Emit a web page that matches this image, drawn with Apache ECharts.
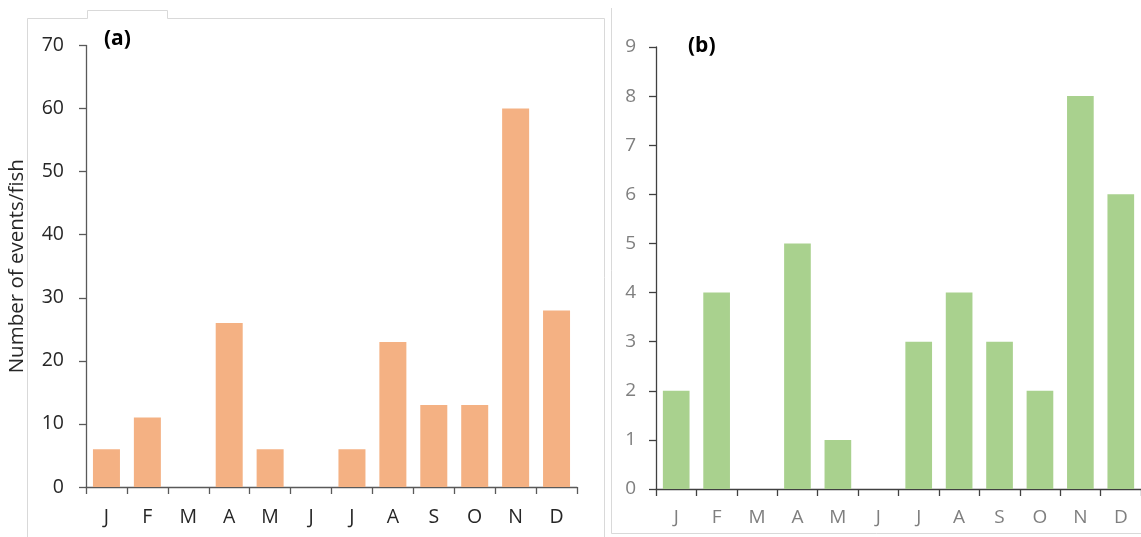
<!DOCTYPE html>
<html>
<head>
<meta charset="utf-8">
<script src="https://cdn.jsdelivr.net/npm/echarts@6/dist/echarts.min.js"></script>
<style>
html,body{margin:0;padding:0;background:#fff;}
#c{width:1141px;height:537px;}
</style>
</head>
<body>
<div id="c"></div>
<script>
var months = ['J','F','M','A','M','J','J','A','S','O','N','D'];
var eventsA = [6, 11, 0, 26, 6, 0, 6, 23, 13, 13, 60, 28];
var eventsB = [2, 4, 0, 5, 1, 0, 3, 4, 3, 2, 8, 6];
var yTicksA = {min: 0, max: 70, interval: 10};
var yTicksB = {min: 0, max: 9, interval: 1};
var yName = 'Number of events/fish';
var panelLabels = ['(a)', '(b)'];

var FONT = '"Open Sans", "Noto Sans", sans-serif';
var chart = echarts.init(document.getElementById('c'), null, {renderer: 'canvas'});
var border = '#d9d9d9';

chart.setOption({
  backgroundColor: '#ffffff',
  animation: false,
  grid: [
    {left: 86, right: 1141 - 577, top: 45.5, bottom: 537 - 487},
    {left: 656, right: 1141 - 1149, top: 47, bottom: 537 - 489}
  ],
  xAxis: [
    {
      gridIndex: 0, type: 'category', data: months,
      axisLine: {lineStyle: {color: '#595959', width: 1.3}},
      axisTick: {show: true, length: 7, alignWithLabel: false, lineStyle: {color: '#595959', width: 1.3}},
      axisLabel: {color: '#262626', fontFamily: FONT, fontSize: 19.5, margin: 20}
    },
    {
      gridIndex: 1, type: 'category', data: months,
      axisLine: {lineStyle: {color: '#404040', width: 1.3}},
      axisTick: {show: true, length: 7, lineStyle: {color: '#404040', width: 1.3}},
      axisLabel: {color: '#7f7f7f', fontFamily: FONT, fontSize: 19, margin: 19}
    }
  ],
  yAxis: [
    {
      gridIndex: 0, type: 'value', min: yTicksA.min, max: yTicksA.max, interval: yTicksA.interval,
      name: yName, nameLocation: 'middle', nameGap: 58,
      nameTextStyle: {color: '#262626', fontFamily: FONT, fontSize: 20.5},
      axisLine: {show: true, lineStyle: {color: '#595959', width: 1.3}},
      axisTick: {show: true, length: 7, lineStyle: {color: '#595959', width: 1.3}},
      splitLine: {show: false},
      axisLabel: {color: '#262626', fontFamily: FONT, fontSize: 19.5, margin: 22}
    },
    {
      gridIndex: 1, type: 'value', min: yTicksB.min, max: yTicksB.max, interval: yTicksB.interval,
      axisLine: {show: true, lineStyle: {color: '#404040', width: 1.3}},
      axisTick: {show: true, length: 7, lineStyle: {color: '#404040', width: 1.3}},
      splitLine: {show: false},
      axisLabel: {color: '#7f7f7f', fontFamily: FONT, fontSize: 19, margin: 20}
    }
  ],
  series: [
    {
      type: 'bar', xAxisIndex: 0, yAxisIndex: 0, data: eventsA,
      barCategoryGap: '34%',
      itemStyle: {color: '#f4b183'}
    },
    {
      type: 'bar', xAxisIndex: 1, yAxisIndex: 1, data: eventsB,
      barCategoryGap: '34%',
      itemStyle: {color: '#a9d18e'}
    }
  ],
  graphic: [
    {type: 'polyline', shape: {points: [[27.5, 537], [27.5, 18.5], [87.5, 18.5], [87.5, 10.5], [167.5, 10.5], [167.5, 18.5], [604.5, 18.5], [604.5, 537]]},
     style: {stroke: border, fill: null, lineWidth: 1}, silent: true},
    {type: 'polyline', shape: {points: [[611.5, 8], [611.5, 533.5], [1141, 533.5]]},
     style: {stroke: border, fill: null, lineWidth: 1}, silent: true},
    {type: 'text', left: 104, top: 29, style: {text: panelLabels[0], fill: '#000', font: 'bold 21px "Open Sans", sans-serif'}},
    {type: 'text', left: 688, top: 36, style: {text: panelLabels[1], fill: '#000', font: 'bold 21px "Open Sans", sans-serif'}}
  ]
});
</script>
</body>
</html>
